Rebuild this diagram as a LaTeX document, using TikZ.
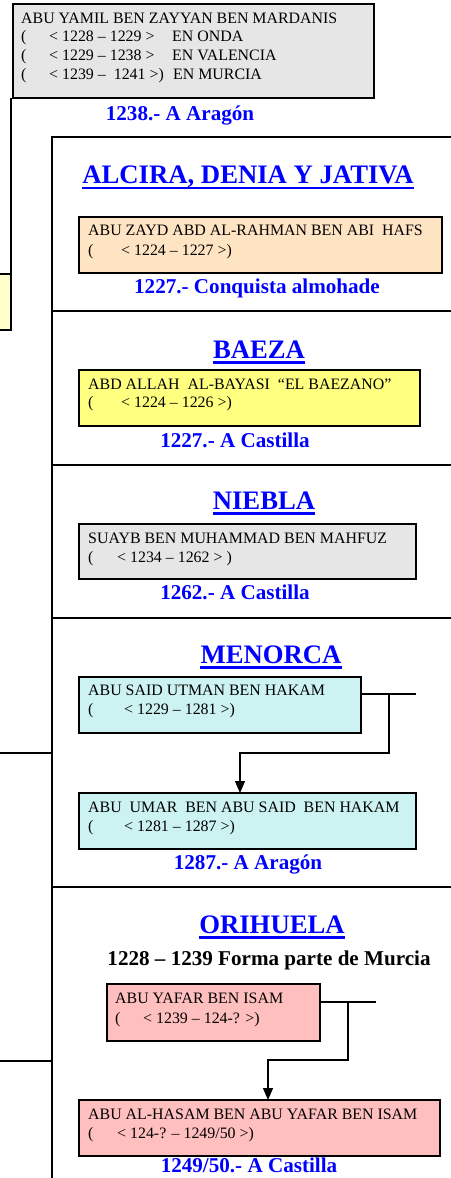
\documentclass[tikz,border=0pt]{standalone}
\usepackage{fontspec}
\setmainfont{Liberation Serif}
\usetikzlibrary{arrows.meta}
\definecolor{gbox}{HTML}{E6E6E6}
\definecolor{obox}{HTML}{FFE4C4}
\definecolor{ybox}{HTML}{FFFF80}
\definecolor{lybox}{HTML}{FFFFCC}
\definecolor{cbox}{HTML}{CCF2F2}
\definecolor{pbox}{HTML}{FFBFBF}
\definecolor{tblue}{HTML}{0000FF}
\begin{document}
\begin{tikzpicture}[x=1pt,y=-1pt,
 boxframe/.style={draw=black, line width=2pt, anchor=north west, inner sep=0pt, outer sep=0pt},
 txt/.style={font=\fontsize{15.9}{19}\selectfont, inner sep=0pt, anchor=base west, text=black},
 lbl/.style={font=\fontsize{21.1}{25}\selectfont\bfseries, inner sep=0pt, anchor=base, text=tblue},
 ttl/.style={font=\fontsize{26.7}{32}\selectfont\bfseries, inner sep=0pt, anchor=base, text=tblue},
 uline/.style={draw=tblue, line width=2.2pt},
 secline/.style={line width=2.6pt, line cap=rect},
 sideline/.style={line width=2pt},
 conn/.style={line width=1.3pt},
 arr/.style={conn, -{Triangle[length=12pt,width=10pt]}},
]
\useasboundingbox (0,0) rectangle (450,1178);

% ---------- top box ----------
\node[boxframe, fill=gbox, minimum width=361pt, minimum height=94pt] (top) at (13,4) {};
\node[txt] (top1) at (21,23) {ABU YAMIL BEN ZAYYAN BEN MARDANIS};
\node[txt] (top2) at (21,41) {\makebox[28pt][l]{(}\makebox[123pt][l]{< 1228 – 1229 >}EN ONDA};
\node[txt] (top3) at (21,60) {\makebox[28pt][l]{(}\makebox[123pt][l]{< 1229 – 1238 >}EN VALENCIA};
\node[txt] (top4) at (21,79) {\makebox[28pt][l]{(}\makebox[124pt][l]{< 1239 –\ \ 1241 >)}EN MURCIA};
\node[lbl] (topl) at (180,120) {1238.- A Aragón};

% ---------- left partial box ----------
\node[boxframe, fill=lybox, minimum width=31pt, minimum height=56pt] (lbox) at (-20,274) {};
\draw[conn] (lbox.north east) -- (lbox.north east |- top.south);

% ---------- section frames ----------
\coordinate (s0) at (52,137);
\draw[secline] (470,137) -- (s0) -- (52,1190);
\foreach \yy in {311,465,618,887} \draw[secline] (52,\yy) -- (470,\yy);
\coordinate (h1) at (52,753);
\coordinate (h2) at (52,1061);
\draw[sideline] (-5,753) -- (h1);
\draw[sideline] (-5,1061) -- (h2);

% ---------- ALCIRA ----------
\node[ttl] (t1) at (248,183) {ALCIRA, DENIA Y JATIVA};
\draw[uline] ([yshift=-5pt]t1.base west) -- ([yshift=-5pt]t1.base east);
\node[boxframe, fill=obox, minimum width=363pt, minimum height=56pt] (a1) at (79,217) {};
\node[txt] (a1a) at (88,235) {ABU ZAYD ABD AL-RAHMAN BEN ABI\ \ HAFS};
\node[txt] (a1b) at (88,255) {\makebox[33pt][l]{(}< 1224 – 1227 >)};
\node[lbl] (l1) at (257,293) {1227.- Conquista almohade};

% ---------- BAEZA ----------
\node[ttl] (t2) at (259,358) {BAEZA};
\draw[uline] ([yshift=-4.5pt]t2.base west) -- ([yshift=-4.5pt]t2.base east);
\node[boxframe, fill=ybox, minimum width=341pt, minimum height=56pt] (b1) at (79,370) {};
\node[txt] (b1a) at (88,389) {ABD ALLAH\ \ AL-BAYASI\ \ “EL BAEZANO”};
\node[txt] (b1b) at (88,407) {\makebox[33pt][l]{(}< 1224 – 1226 >)};
\node[lbl] (l2) at (235,447) {1227.- A Castilla};

% ---------- NIEBLA ----------
\node[ttl] (t3) at (264,509) {NIEBLA};
\draw[uline] ([yshift=-4.5pt]t3.base west) -- ([yshift=-4.5pt]t3.base east);
\node[boxframe, fill=gbox, minimum width=337pt, minimum height=55pt] (n1) at (79,524) {};
\node[txt] (n1a) at (88,543) {SUAYB BEN MUHAMMAD BEN MAHFUZ};
\node[txt] (n1b) at (88,562) {\makebox[29pt][l]{(}< 1234 – 1262 > )};
\node[lbl] (l3) at (235,599) {1262.- A Castilla};

% ---------- MENORCA ----------
\node[ttl] (t4) at (271,663) {MENORCA};
\draw[uline] ([yshift=-4.5pt]t4.base west) -- ([yshift=-4.5pt]t4.base east);
\node[boxframe, fill=cbox, minimum width=282pt, minimum height=56pt] (m1) at (79,677) {};
\node[txt] (m1a) at (88,695) {ABU SAID UTMAN BEN HAKAM};
\node[txt] (m1b) at (88,714) {\makebox[36pt][l]{(}< 1229 – 1281 >)};
\node[boxframe, fill=cbox, minimum width=337pt, minimum height=56pt] (m2) at (79,793) {};
\node[txt] (m2a) at (88,812) {ABU\ \ UMAR\ \ BEN ABU SAID\ \ BEN HAKAM};
\node[txt] (m2b) at (88,831) {\makebox[36pt][l]{(}< 1281 – 1287 >)};
\node[lbl] (l4) at (248,869) {1287.- A Aragón};
\coordinate (mj) at ([yshift=-17pt]m1.north east);
\coordinate (mb) at ([xshift=28pt]mj);
\coordinate (mk) at (240,753);
\draw[conn] (mj) -- ++(55,0);
\draw[arr] (mb) |- (mk) -- (mk |- m2.north);

% ---------- ORIHUELA ----------
\node[ttl] (t5) at (272,933) {ORIHUELA};
\draw[uline] ([yshift=-4.5pt]t5.base west) -- ([yshift=-4.5pt]t5.base east);
\node[lbl, text=black] (o0) at (269,965) {1228 – 1239 Forma parte de Murcia};
\node[boxframe, fill=pbox, minimum width=213pt, minimum height=57pt] (o1) at (107,984) {};
\node[txt] (o1a) at (115,1003) {ABU YAFAR BEN ISAM};
\node[txt] (o1b) at (115,1023) {\makebox[28pt][l]{(}< 1239 – 124-? >)};
\node[boxframe, fill=pbox, minimum width=361pt, minimum height=56pt] (o2) at (79,1100) {};
\node[txt] (o2a) at (88,1119) {ABU AL-HASAM BEN ABU YAFAR BEN ISAM};
\node[txt] (o2b) at (88,1138) {\makebox[29pt][l]{(}< 124-? – 1249/50 >)};
\node[lbl] (l5) at (249,1172) {1249/50.- A Castilla};
\coordinate (oj) at ([yshift=-18pt]o1.north east);
\coordinate (ob) at ([xshift=28pt]oj);
\coordinate (ok) at (268,1060);
\draw[conn] (oj) -- ++(56,0);
\draw[arr] (ob) |- (ok) -- (ok |- o2.north);
\end{tikzpicture}
\end{document}
